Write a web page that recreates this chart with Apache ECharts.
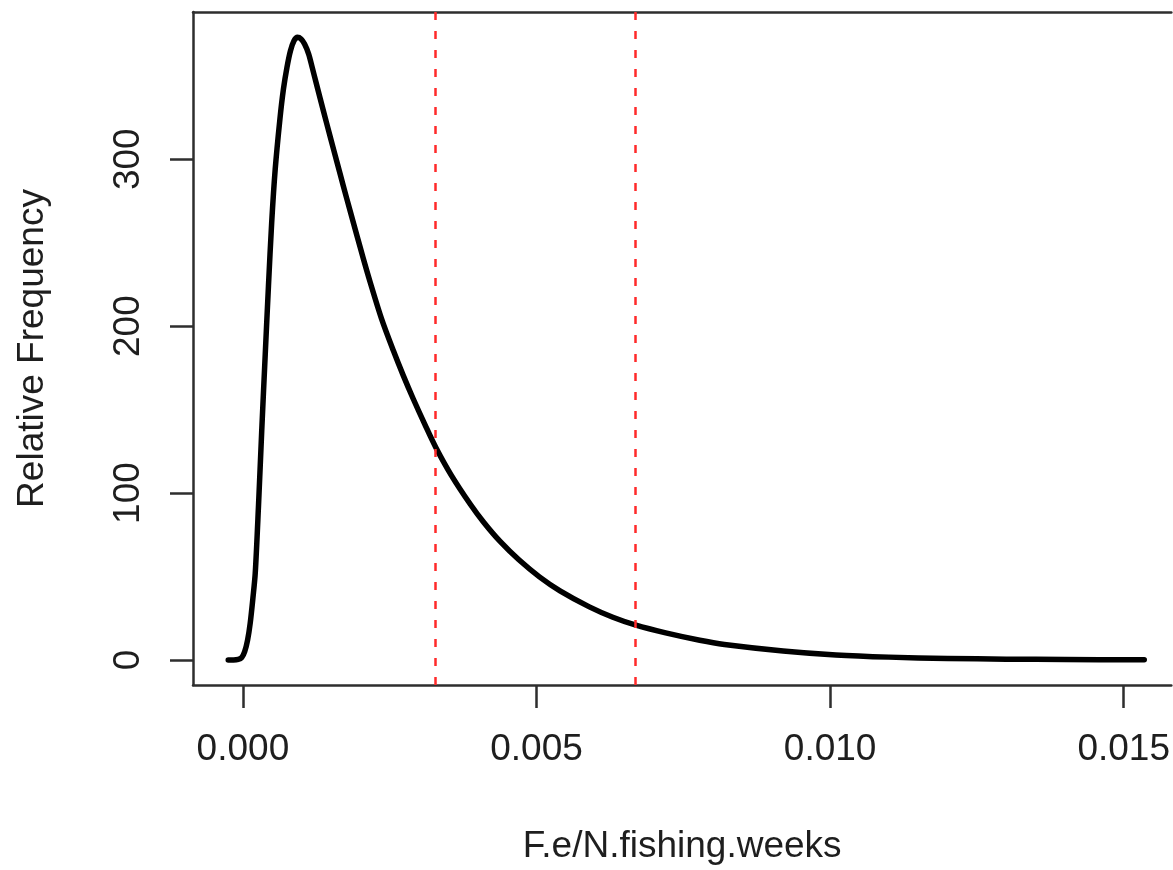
<!DOCTYPE html>
<html>
<head>
<meta charset="utf-8">
<script src="https://cdn.jsdelivr.net/npm/echarts@6/dist/echarts.min.js"></script>
<style>
html,body{margin:0;padding:0;background:#fff;}
#chart{width:1173px;height:870px;}
</style>
</head>
<body>
<div id="chart"></div>
<script>
// Curve: x values and relative frequency values
const xValues = [-0.00025, -0.00016, -0.00008, -0.00002, 0.00003, 0.00008, 0.000124, 0.00017, 0.00021, 0.000265, 0.00032, 0.00038, 0.000435, 0.00049, 0.00055, 0.00063, 0.00069, 0.00075, 0.00081, 0.00087, 0.00093, 0.00099, 0.00105, 0.00112, 0.00118, 0.00126, 0.00137, 0.00149, 0.0016, 0.00171, 0.00183, 0.00194, 0.00205, 0.00217, 0.00236, 0.00256, 0.00273, 0.0029, 0.0031, 0.00329, 0.00355, 0.00387, 0.0041, 0.00438, 0.0047, 0.00505, 0.0054, 0.0059, 0.0063, 0.00668, 0.0072, 0.00778, 0.0082, 0.0092, 0.0101, 0.011, 0.012, 0.013, 0.014, 0.01535];
const yValues = [0, 0, 0.3, 1.5, 5, 12, 22, 37, 52, 92, 137, 183, 224, 262, 294, 324, 342, 355, 365, 371, 373, 372, 369, 363, 355, 344, 329, 313, 298.5, 284, 268.5, 254.5, 240.5, 226, 204.5, 185.5, 170.5, 156.5, 141, 127, 110.6, 93.4, 82.5, 71, 60, 49.8, 41.4, 31.8, 25.6, 21, 16.2, 11.8, 9.3, 5.4, 3, 1.7, 0.9, 0.5, 0.25, 0.1];
// Dashed reference lines
const refLines = [0.00328, 0.00668];
// Ticks
const xTicks = [0, 0.005, 0.010, 0.015];
const xTickLabels = ['0.000', '0.005', '0.010', '0.015'];
const yTicks = [0, 100, 200, 300];
const yTickLabels = ['0', '100', '200', '300'];

const curve = xValues.map((x, i) => [x, yValues[i]]);
const font = 'Liberation Sans, Arial, sans-serif';
const txt = '#1e1e1e';
const ax = '#2e2e2e';
const xMin = -0.00085, xMax = 0.015811;

const chart = echarts.init(document.getElementById('chart'), null, {renderer: 'canvas'});
chart.setOption({
  animation: false,
  grid: {left: 193, top: 12, bottom: 185, right: 0, show: false},
  xAxis: [{
    type: 'value', min: xMin, max: xMax, position: 'bottom',
    name: 'F.e/N.fishing.weeks', nameLocation: 'middle', nameGap: 143,
    nameTextStyle: {fontFamily: font, fontSize: 37, color: txt},
    axisLine: {show: true, onZero: false, lineStyle: {color: ax, width: 2.5}},
    splitLine: {show: false},
    axisTick: {show: true, inside: false, length: 23, lineStyle: {color: ax, width: 2.5}, customValues: xTicks},
    axisLabel: {show: true, margin: 46, fontFamily: font, fontSize: 37, color: txt, customValues: xTicks,
      formatter: v => { const i = xTicks.findIndex(t => Math.abs(t - v) < 1e-9); return i >= 0 ? xTickLabels[i] : ''; }}
  }, {
    type: 'value', min: xMin, max: xMax, position: 'top',
    axisLine: {show: true, onZero: false, lineStyle: {color: ax, width: 2.5}},
    axisTick: {show: false}, axisLabel: {show: false}, splitLine: {show: false}
  }],
  yAxis: {
    type: 'value', min: -15, max: 388.2,
    name: 'Relative Frequency', nameLocation: 'middle', nameGap: 142, nameRotate: 90,
    nameTextStyle: {fontFamily: font, fontSize: 37, color: txt},
    axisLine: {show: true, onZero: false, lineStyle: {color: ax, width: 2.5}},
    splitLine: {show: false},
    axisTick: {show: true, inside: false, length: 23, lineStyle: {color: ax, width: 2.5}, customValues: yTicks},
    axisLabel: {show: true, rotate: 90, margin: 46, fontFamily: font, fontSize: 37, color: txt, customValues: yTicks,
      formatter: v => { const i = yTicks.indexOf(v); return i >= 0 ? yTickLabels[i] : ''; }}
  },
  series: [{
    type: 'line',
    xAxisIndex: 0,
    data: curve,
    showSymbol: false,
    smooth: 0.3,
    lineStyle: {color: '#000', width: 5.5, cap: 'round', join: 'round'},
    markLine: {
      silent: true,
      precision: 8,
      symbol: ['none', 'none'],
      label: {show: false},
      lineStyle: {color: '#ff2a2a', width: 2.5, type: [8, 11]},
      data: refLines.map(v => ({xAxis: v}))
    },
    z: 3
  }]
});
</script>
</body>
</html>
